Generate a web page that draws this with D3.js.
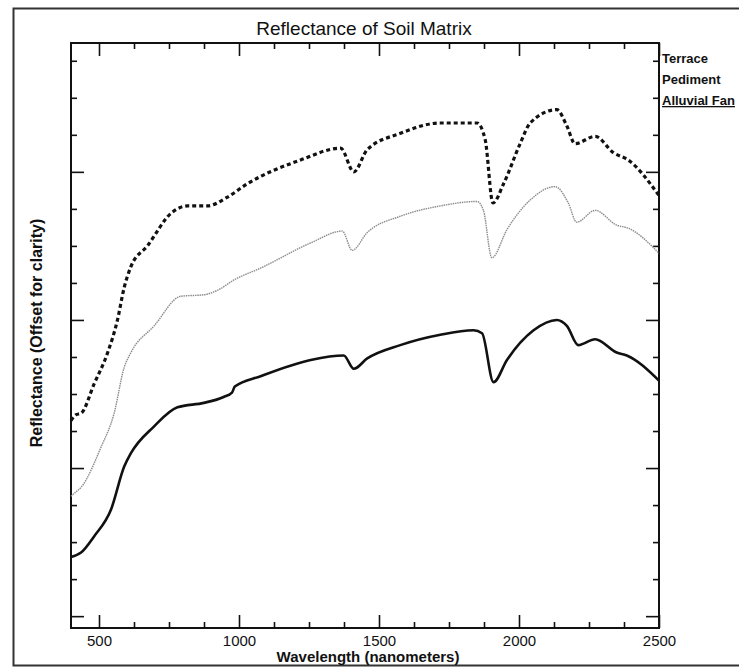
<!DOCTYPE html>
<html>
<head>
<meta charset="utf-8">
<script src="https://cdn.jsdelivr.net/npm/d3@7/dist/d3.min.js"></script>
<style>
  body { margin: 0; background: #fff; }
  text { font-family: "Liberation Sans", Arial, sans-serif; fill: #111; }
</style>
</head>
<body>
<div class="chart-wrapper"></div>
<script>
// wavelength (nm) / reflectance (arbitrary, offset)
const terraceWl = [400, 418, 436, 483, 531, 566, 590, 614, 673, 757, 816, 887, 959, 1030, 1220, 1363, 1410, 1458, 1576, 1719, 1850, 1879, 1907, 1945, 2004, 2040, 2135, 2171, 2200, 2272, 2337, 2390, 2500];
const terraceR = [1.32, 1.36, 1.37, 1.57, 1.78, 2.0, 2.22, 2.36, 2.5, 2.72, 2.77, 2.77, 2.83, 2.92, 3.08, 3.16, 3.0, 3.15, 3.26, 3.33, 3.33, 3.22, 2.79, 2.92, 3.19, 3.33, 3.42, 3.31, 3.19, 3.24, 3.13, 3.08, 2.84];

const pedimentWl = [400, 412, 436, 507, 554, 590, 614, 697, 792, 874, 923, 982, 1077, 1256, 1369, 1404, 1458, 1576, 1719, 1850, 1873, 1903, 1957, 2040, 2129, 2176, 2206, 2272, 2349, 2390, 2500];
const pedimentR = [0.81, 0.83, 0.87, 1.14, 1.37, 1.68, 1.78, 1.96, 2.16, 2.17, 2.2, 2.27, 2.35, 2.52, 2.6, 2.47, 2.59, 2.7, 2.77, 2.8, 2.74, 2.42, 2.61, 2.81, 2.9, 2.79, 2.66, 2.74, 2.64, 2.62, 2.45];

const alluvialWl = [400, 436, 483, 543, 590, 614, 696, 780, 874, 945, 975, 985, 1077, 1256, 1374, 1410, 1458, 1576, 1719, 1838, 1868, 1909, 1957, 2052, 2135, 2171, 2212, 2272, 2349, 2385, 2500];
const alluvialR = [0.4, 0.43, 0.54, 0.72, 1.01, 1.1, 1.28, 1.41, 1.44, 1.48, 1.51, 1.55, 1.62, 1.73, 1.76, 1.67, 1.74, 1.83, 1.9, 1.93, 1.91, 1.58, 1.73, 1.93, 2.0, 1.96, 1.83, 1.87, 1.78, 1.76, 1.59];

const seriesNames = ["Terrace", "Pediment", "Alluvial Fan"];
const xMajorTicks = [500, 1000, 1500, 2000, 2500];
const xMinorTicks = [625, 750, 875, 1125, 1250, 1375, 1625, 1750, 1875, 2125, 2250, 2375];
const yMajorTicks = [0, 1, 2, 3];
const yMinorTicks = [0.25, 0.5, 0.75, 1.25, 1.5, 1.75, 2.25, 2.5, 2.75, 3.25, 3.5, 3.75];

const width = 739, height = 670;
const plot = { left: 71, right: 659, top: 43, bottom: 628 };

const svg = d3.select(".chart-wrapper")
  .append("svg")
  .attr("width", width)
  .attr("height", height);

// scanned page border
svg.append("path")
  .attr("d", `M${width},8.5 H13.5 V665.5 H${width}`)
  .attr("fill", "none")
  .attr("stroke", "#333")
  .attr("stroke-width", 2);

const x = d3.scaleLinear().domain([400, 2500]).range([plot.left, plot.right]);
const y = d3.scaleLinear().domain([-0.08, 3.87]).range([plot.bottom, plot.top]);

// axes: ticks point inward, mirrored on all four sides
function addAxis(axisFn, scale, values, size, transform, labels) {
  const g = svg.append("g")
    .attr("transform", transform)
    .call(axisFn(scale)
      .tickValues(values)
      .tickSize(size)
      .tickPadding(7)
      .tickFormat(labels ? d3.format("d") : ""));
  g.select(".domain").remove();
  g.selectAll(".tick line").attr("stroke", "#111").attr("stroke-width", 1.6);
  g.selectAll(".tick text")
    .style("font-size", "15px")
    .style("font-family", "'Liberation Sans', Arial, sans-serif")
    .attr("fill", "#111");
  return g;
}

addAxis(d3.axisBottom, x, xMajorTicks, -13, `translate(0,${plot.bottom})`, true);
addAxis(d3.axisBottom, x, xMinorTicks, -6, `translate(0,${plot.bottom})`, false);
addAxis(d3.axisTop, x, xMajorTicks, -13, `translate(0,${plot.top})`, false);
addAxis(d3.axisTop, x, xMinorTicks, -6, `translate(0,${plot.top})`, false);
addAxis(d3.axisLeft, y, yMajorTicks, -13, `translate(${plot.left},0)`, false);
addAxis(d3.axisLeft, y, yMinorTicks, -6, `translate(${plot.left},0)`, false);
addAxis(d3.axisRight, y, yMajorTicks, -13, `translate(${plot.right},0)`, false);
addAxis(d3.axisRight, y, yMinorTicks, -6, `translate(${plot.right},0)`, false);

svg.append("rect")
  .attr("x", plot.left)
  .attr("y", plot.top)
  .attr("width", plot.right - plot.left)
  .attr("height", plot.bottom - plot.top)
  .attr("fill", "none")
  .attr("stroke", "#111")
  .attr("stroke-width", 2);

// spectra
const line = d3.line()
  .x(d => x(d[0]))
  .y(d => y(d[1]))
  .curve(d3.curveMonotoneX);

const series = [
  { wl: terraceWl, r: terraceR, stroke: "#111", width: 3.2, dash: "4,3" },
  { wl: pedimentWl, r: pedimentR, stroke: "#8c8c8c", width: 1.4, dash: "1.5,0.8" },
  { wl: alluvialWl, r: alluvialR, stroke: "#111", width: 2.6, dash: null }
];

series.forEach(s => {
  svg.append("path")
    .datum(d3.zip(s.wl, s.r))
    .attr("fill", "none")
    .attr("stroke", s.stroke)
    .attr("stroke-width", s.width)
    .attr("stroke-dasharray", s.dash)
    .attr("stroke-linejoin", "round")
    .attr("d", line);
});

// title and axis labels
svg.append("text")
  .attr("x", 364)
  .attr("y", 35)
  .attr("text-anchor", "middle")
  .style("font-size", "19px")
  .text("Reflectance of Soil Matrix");

svg.append("text")
  .attr("x", 368)
  .attr("y", 662)
  .attr("text-anchor", "middle")
  .style("font-size", "15px")
  .style("font-weight", "bold")
  .text("Wavelength (nanometers)");

svg.append("text")
  .attr("transform", "translate(42,333) rotate(-90)")
  .attr("text-anchor", "middle")
  .style("font-size", "16px")
  .style("font-weight", "bold")
  .text("Reflectance (Offset for clarity)");

// legend on the right margin
svg.selectAll(".legend")
  .data(seriesNames)
  .enter()
  .append("text")
  .attr("class", "legend")
  .attr("x", 662)
  .attr("y", (d, i) => 63 + i * 21)
  .style("font-size", "13px")
  .style("font-weight", "bold")
  .style("text-decoration", (d, i) => i === 2 ? "underline" : null)
  .text(d => d);
</script>
</body>
</html>
